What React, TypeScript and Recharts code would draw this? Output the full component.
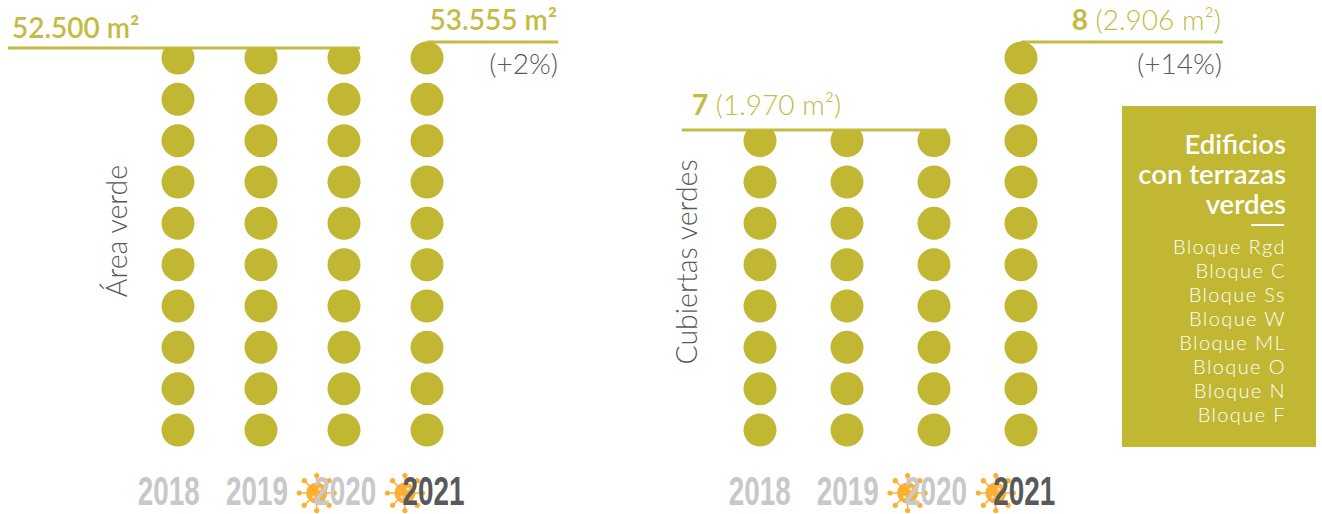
import { ReferenceLine, Scatter, ScatterChart, XAxis, YAxis } from "recharts";

const years = [2018, 2019, 2020, 2021];
const areaRows = [10, 10, 10, 10];
const roofRows = [8, 8, 8, 10];
const virusYears = [2020, 2021];
const buildings = ["Bloque Rgd", "Bloque C", "Bloque Ss", "Bloque W", "Bloque ML", "Bloque O", "Bloque N", "Bloque F"];
const boxTitle = ["Edificios", "con terrazas", "verdes"];

const OLIVE = "#c1b733";
const OLIVE_TEXT = "#c5bb42";
const GREY = "#58595b";
const YEAR_GREY = "#c7c8ca";
const ORANGE = "#fbb034";
const FONT = "Lato, sans-serif";
const R = 16.5;

type Pt = { x: number; y: number; cap: number };

function toPoints(rows: number[], cutFromTop: number): Pt[] {
  const pts: Pt[] = [];
  rows.forEach((n, i) => {
    for (let r = 1; r <= n; r++) {
      // the old-year columns are cut flat by the rule that sits on them
      pts.push({ x: years[i], y: r, cap: r === n && years[i] !== 2021 ? cutFromTop : 0 });
    }
  });
  return pts;
}

function Dot(props: any) {
  const { cx, cy, payload } = props;
  if (!payload.cap) return <circle cx={cx} cy={cy} r={R} fill={OLIVE} />;
  const d = payload.cap;
  const w = Math.sqrt(R * R - d * d);
  return (
    <path
      d={`M${cx - w},${cy - d} L${cx + w},${cy - d} A${R},${R} 0 1 1 ${cx - w},${cy - d} Z`}
      fill={OLIVE}
    />
  );
}

function Virus({ x, y }: { x: number; y: number }) {
  const spikes = [0, 45, 90, 135, 180, 225, 270, 315];
  return (
    <g>
      {spikes.map((a) => {
        const c = Math.cos((a * Math.PI) / 180);
        const s = Math.sin((a * Math.PI) / 180);
        return (
          <g key={a}>
            <line x1={x} y1={y} x2={x + 17 * c} y2={y + 17 * s} stroke={ORANGE} strokeWidth={1.5} />
            <circle cx={x + 17.5 * c} cy={y + 17.5 * s} r={2.6} fill={ORANGE} />
          </g>
        );
      })}
      <circle cx={x} cy={y} r={10.5} fill={ORANGE} />
      <circle cx={x + 3} cy={y - 4} r={1.5} fill="#fff" opacity={0.7} />
      <circle cx={x - 3} cy={y + 4} r={1.5} fill="#fff" opacity={0.7} />
    </g>
  );
}

// year labels sit a little wider apart than the dot columns
function YearTick(props: any) {
  const { x, payload, labelMid, labelSpread } = props;
  const year = payload.value;
  const lx = labelMid + (x - labelMid) * labelSpread;
  return (
    <g>
      {virusYears.includes(year) && <Virus x={lx - 28.5} y={493} />}
      <text
        x={lx}
        y={505}
        textAnchor="middle"
        textLength={62}
        lengthAdjust="spacingAndGlyphs"
        fontFamily="'Liberation Sans Narrow', 'Liberation Sans', sans-serif"
        fontWeight={700}
        fontSize={41}
        fill={year === 2021 ? GREY : YEAR_GREY}
      >
        {year}
      </text>
    </g>
  );
}

interface PanelProps {
  left: number;
  width: number;
  marginLeft: number;
  marginRight: number;
  rows: number[];
  cut: number;
  labelMid: number;
  labelSpread: number;
  lineOld: [number, number, number];
  lineNew: [number, number, number];
  children: React.ReactNode;
}

function Panel({ left, width, marginLeft, marginRight, rows, cut, labelMid, labelSpread, lineOld, lineNew, children }: PanelProps) {
  return (
    <div style={{ position: "absolute", left, top: 0 }}>
      <ScatterChart width={width} height={514} margin={{ top: 58, right: marginRight, bottom: 0, left: marginLeft }}>
        <XAxis
          type="number"
          dataKey="x"
          domain={[2018, 2021]}
          ticks={years}
          interval={0}
          height={84}
          axisLine={false}
          tickLine={false}
          tick={<YearTick labelMid={labelMid} labelSpread={labelSpread} />}
        />
        <YAxis type="number" dataKey="y" domain={[1, 10]} hide />
        <Scatter data={toPoints(rows, cut)} dataKey="y" shape={<Dot />} isAnimationActive={false} />
        <ReferenceLine
          segment={[{ x: lineOld[0], y: lineOld[2] }, { x: lineOld[1], y: lineOld[2] }]}
          stroke={OLIVE_TEXT}
          strokeWidth={3}
          ifOverflow="visible"
        />
        <ReferenceLine
          segment={[{ x: lineNew[0], y: lineNew[2] }, { x: lineNew[1], y: lineNew[2] }]}
          stroke={OLIVE_TEXT}
          strokeWidth={3}
          ifOverflow="visible"
        />
        {children}
      </ScatterChart>
    </div>
  );
}

const bigText = { fontFamily: FONT, fontSize: 28, fill: OLIVE_TEXT };
const greyText = { fontFamily: FONT, fontSize: 28, fontWeight: 300, fill: GREY };
const sideText = { ...greyText, fontSize: 28.5 };

export default function App() {
  return (
    <div style={{ position: "absolute", left: 0, top: 0, width: 1322, height: 514, overflow: "hidden", background: "#fff" }}>
      <Panel
        left={0}
        width={640}
        marginLeft={178}
        marginRight={213}
        rows={areaRows}
        cut={10}
        labelMid={325}
        labelSpread={1.063}
        lineOld={[2015.95, 2020.19, 10.24]}
        lineNew={[2021, 2022.58, 10.39]}
      >
        <text x={12} y={38} {...bigText} fontWeight={600}>52.500 m²</text>
        <text x={557} y={30} {...bigText} fontWeight={600} textAnchor="end">53.555 m²</text>
        <text x={558} y={74} {...greyText} textAnchor="end">(+2%)</text>
        <text transform="translate(127,231) rotate(-90)" {...sideText} textAnchor="middle">Área verde</text>
      </Panel>
      <Panel
        left={640}
        width={682}
        marginLeft={120}
        marginRight={301}
        rows={roofRows}
        cut={11}
        labelMid={145}
        labelSpread={1.014}
        lineOld={[2017.1, 2020.14, 8.26]}
        lineNew={[2021, 2023.32, 10.39]}
      >
        <text x={581} y={30} {...bigText} fontWeight={300} textAnchor="end">
          <tspan fontWeight={700}>8</tspan> (2.906 m²)
        </text>
        <text x={582} y={74} {...greyText} textAnchor="end">(+14%)</text>
        <text x={52} y={115} {...bigText} fontWeight={300}>
          <tspan fontWeight={700}>7</tspan> (1.970 m²)
        </text>
        <text transform="translate(57,262) rotate(-90)" {...sideText} textAnchor="middle">Cubiertas verdes</text>
      </Panel>
      <div
        style={{
          position: "absolute",
          left: 1122,
          top: 106,
          width: 194,
          height: 341,
          background: OLIVE,
          color: "#fff",
          textAlign: "right",
          fontFamily: FONT,
          boxSizing: "border-box",
          paddingRight: 30,
          paddingTop: 23,
        }}
      >
        {boxTitle.map((t) => (
          <div key={t} style={{ fontSize: 27.5, fontWeight: 600, lineHeight: "30px", whiteSpace: "nowrap" }}>{t}</div>
        ))}
        <div style={{ width: 33, height: 1.5, background: "#fff", margin: "5px 2px 8px auto" }} />
        {buildings.map((b) => (
          <div key={b} style={{ fontSize: 20, letterSpacing: 1.4, fontWeight: 300, lineHeight: "24px", whiteSpace: "nowrap" }}>{b}</div>
        ))}
      </div>
    </div>
  );
}
